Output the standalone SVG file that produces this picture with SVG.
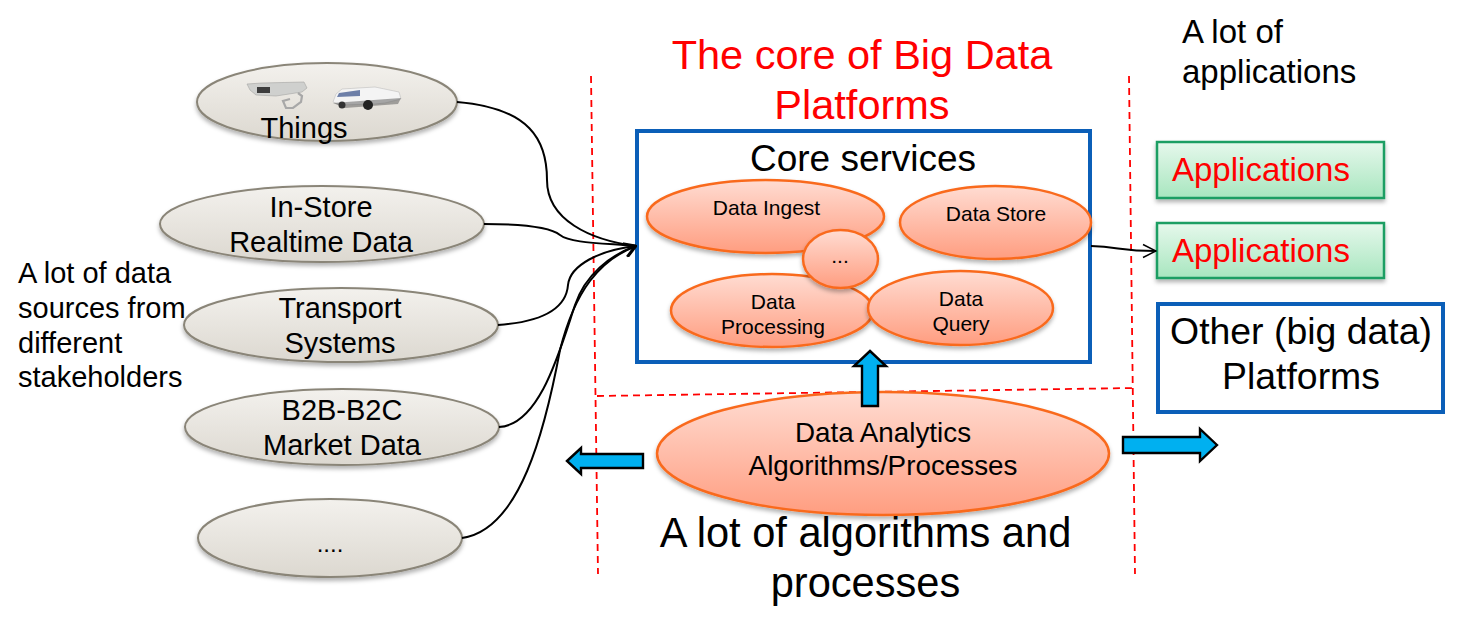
<svg xmlns="http://www.w3.org/2000/svg" width="1465" height="631" viewBox="0 0 1465 631">
<style>
text{font-family:"Liberation Sans",Arial,sans-serif;fill:#000}
.m{text-anchor:middle}
.gray{fill:url(#gGray);stroke:#8a8578;stroke-width:2;filter:url(#sh)}
.org{fill:url(#gOrg);stroke:#f96a1f;stroke-width:2.5;filter:url(#sh)}
.grn{fill:url(#gGrn);stroke:#1b9e64;stroke-width:2.5;filter:url(#sh)}
.blue{fill:#fff;stroke:#0b5fb8;stroke-width:4}
.dash{fill:none;stroke:#f00;stroke-width:1.8;stroke-dasharray:7 5}
.conn{fill:none;stroke:#000;stroke-width:2}
.blk{fill:#00b0f0;stroke:#000;stroke-width:2.4}
.rt{fill:#f00}
</style>
<defs>
<linearGradient id="gGray" x1="0" y1="0" x2="0" y2="1"><stop offset="0" stop-color="#f3f1ed"/><stop offset="1" stop-color="#dcd8d0"/></linearGradient>
<linearGradient id="gOrg" x1="0" y1="0" x2="0" y2="1"><stop offset="0" stop-color="#ffdcd2"/><stop offset="1" stop-color="#ff9d80"/></linearGradient>
<linearGradient id="gGrn" x1="0" y1="0" x2="0" y2="1"><stop offset="0" stop-color="#e6f8ec"/><stop offset="1" stop-color="#a8e6bf"/></linearGradient>
<filter id="sh" x="-10%" y="-10%" width="120%" height="130%"><feDropShadow dx="0" dy="3" stdDeviation="2" flood-color="#000" flood-opacity="0.3"/></filter>
<filter id="soft" x="-10%" y="-10%" width="120%" height="120%"><feGaussianBlur stdDeviation="0.6"/></filter>
<marker id="big" viewBox="0 0 16 16" refX="15" refY="8" markerWidth="16" markerHeight="16" markerUnits="userSpaceOnUse" orient="auto"><path d="M3 1L14.500 8L3 15" fill="none" stroke="#000" stroke-width="3.200"/></marker>
<marker id="open" viewBox="0 0 16 16" refX="15" refY="8" markerWidth="16" markerHeight="16" markerUnits="userSpaceOnUse" orient="auto"><path d="M2 1.500L15 8L2 14.500" fill="none" stroke="#000" stroke-width="1.500"/></marker>
</defs>

<g id="dividers">
<path class="dash" d="M591 76L598 574"/>
<path class="dash" d="M1129 76L1135 574"/>
<path class="dash" d="M597 396L1135 388"/>
</g>

<g id="title" font-size="41.500"><text class="m rt" x="862" y="69" style="fill:#f00">The core of Big Data</text><text class="m" x="862" y="119" style="fill:#f00">Platforms</text></g>
<g id="label-apps" font-size="33"><text x="1182" y="43">A lot of</text><text x="1182" y="83">applications</text></g>
<g id="label-sources" font-size="29"><text x="18" y="283">A lot of data</text><text x="18" y="318">sources from</text><text x="18" y="353">different</text><text x="18" y="387">stakeholders</text></g>

<g id="node-things">
<ellipse class="gray" cx="327" cy="102" rx="130" ry="39"/>
<g filter="url(#soft)">
<path d="M247 84L262 83L304 82L307 88L302 92L276 96L256 95L250 90Z" fill="#cfd0ce" stroke="#a5a5a3" stroke-width="0.600"/>
<rect x="257" y="87" width="13" height="6" fill="#3d3d3d"/>
<path d="M298 93L302 96L301 102L293 108L286 108L283 101L290 99" fill="none" stroke="#a8a8a8" stroke-width="2.200"/>
<path d="M333 102L336 94L342 89L375 87L399 92L401 99L385 103L375 104L340 105Z" fill="#f4f4f4" stroke="#b5b5b5" stroke-width="0.500"/>
<path d="M339 93L360 90L360 96L337 97Z" fill="#6d7fa8"/>
<path d="M333 103L401 98L398 104L345 108Z" fill="#555" opacity="0.500"/>
<circle cx="368" cy="105" r="5" fill="#222"/><circle cx="342" cy="105" r="3.500" fill="#333"/>
</g>
<text class="m" x="304" y="138" font-size="29">Things</text>
</g>
<g id="node-instore"><ellipse class="gray" cx="322" cy="224" rx="162" ry="38"/><text class="m" x="321" y="217" font-size="29">In-Store</text><text class="m" x="321" y="252" font-size="29">Realtime Data</text></g>
<g id="node-transport"><ellipse class="gray" cx="341" cy="325" rx="157" ry="37"/><text class="m" x="340" y="318" font-size="29">Transport</text><text class="m" x="340" y="353" font-size="29">Systems</text></g>
<g id="node-b2b"><ellipse class="gray" cx="342" cy="427" rx="157" ry="38"/><text class="m" x="342" y="420" font-size="29">B2B-B2C</text><text class="m" x="342" y="455" font-size="29">Market Data</text></g>
<g id="node-more"><ellipse class="gray" cx="330" cy="538" rx="132" ry="39"/><text class="m" x="330" y="552" font-size="24">....</text></g>

<g id="node-core-box"><rect class="blue" x="637" y="131" width="453" height="231"/><text class="m" x="863" y="171" font-size="37">Core services</text></g>
<g id="node-ingest"><ellipse class="org" cx="765.500" cy="216.500" rx="118.500" ry="36.500"/><text class="m" x="766.500" y="215" font-size="21">Data Ingest</text></g>
<g id="node-store"><ellipse class="org" cx="995.500" cy="222.500" rx="95.500" ry="36.500"/><text class="m" x="996" y="221" font-size="21">Data Store</text></g>
<g id="node-processing"><ellipse class="org" cx="772" cy="310.500" rx="101" ry="36.500"/><text class="m" x="773" y="309" font-size="21">Data</text><text class="m" x="773" y="334" font-size="21">Processing</text></g>
<g id="node-dots"><ellipse class="org" cx="840.500" cy="259" rx="37.500" ry="29"/><text class="m" x="840" y="263" font-size="21">...</text></g>
<g id="node-query"><ellipse class="org" cx="960.500" cy="308" rx="92.500" ry="37"/><text class="m" x="961" y="306" font-size="21">Data</text><text class="m" x="961" y="331" font-size="21">Query</text></g>

<g id="node-analytics"><ellipse class="org" cx="883" cy="453.500" rx="226" ry="61.500"/><text class="m" x="883" y="442" font-size="27.800">Data Analytics</text><text class="m" x="883" y="475" font-size="27.800">Algorithms/Processes</text></g>
<g id="label-algos" font-size="41.600"><text class="m" x="865.500" y="547">A lot of algorithms and</text><text class="m" x="865.500" y="597">processes</text></g>

<g id="node-app1"><rect class="grn" x="1157" y="142" width="227" height="56"/><text x="1172" y="181" font-size="33" style="fill:#f00">Applications</text></g>
<g id="node-app2"><rect class="grn" x="1157" y="223" width="227" height="55"/><text x="1172" y="262" font-size="33" style="fill:#f00">Applications</text></g>
<g id="node-other"><rect class="blue" x="1158" y="304" width="285" height="108"/><text class="m" x="1301" y="344" font-size="37.400">Other (big data)</text><text class="m" x="1301" y="389" font-size="37.400">Platforms</text></g>

<g id="connectors">
<path class="conn" d="M457 102C530 108 547 140 547 180C547 220 590 240 636 246"/>
<path class="conn" d="M484 224C520 224 550 227 560 235C570 243 600 243 636 246"/>
<path class="conn" d="M498 325C540 322 566 310 568 285C570 265 600 250 636 246"/>
<path class="conn" d="M499 427C540 425 560 350 575 305C585 275 610 255 636 246"/>
<path class="conn" d="M462 538C520 530 545 430 560 350C575 290 600 260 636 246" marker-end="url(#big)"/>
<path class="conn" d="M1091 246C1120 247 1120 251 1156 251" marker-end="url(#open)"/>
<path class="blk" d="M870 351L886 366L878 366L878 406L862 406L862 366L854 366Z"/>
<path class="blk" d="M567 461L581 448L581 454L643 454L643 468L581 468L581 474Z"/>
<path class="blk" d="M1217 445L1200 429L1200 437L1123 437L1123 453L1200 453L1200 461Z"/>
</g>
</svg>
